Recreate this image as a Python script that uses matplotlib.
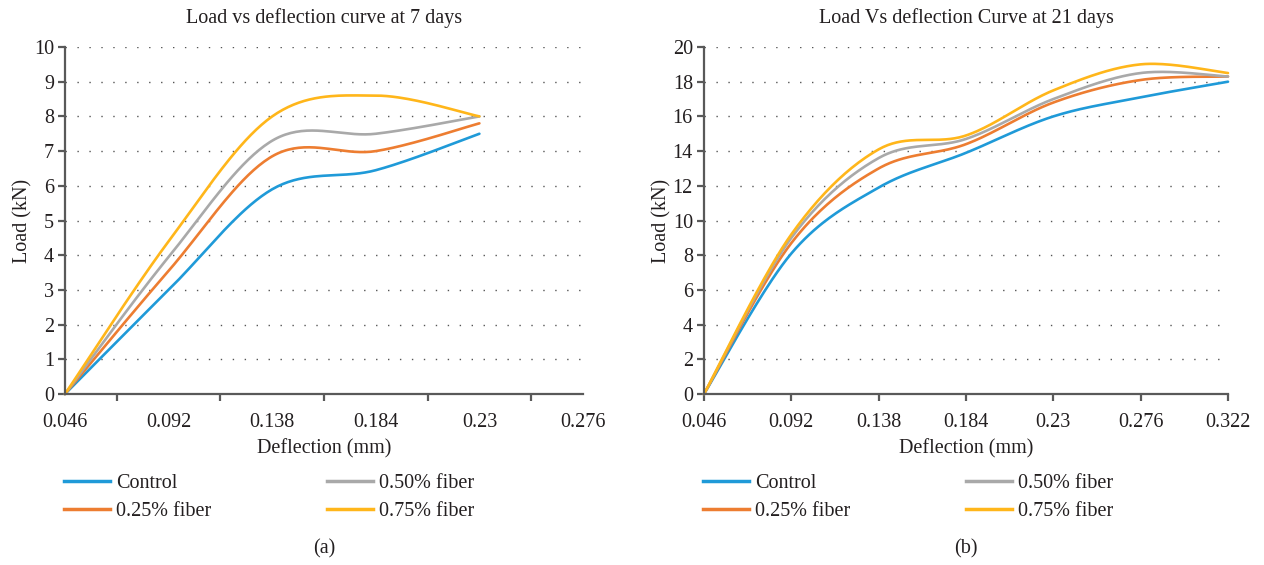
import numpy as np
import matplotlib
matplotlib.use("Agg")
import matplotlib.pyplot as plt
from matplotlib.lines import Line2D
from matplotlib.legend import Legend

plt.rcParams['font.family'] = ['Liberation Serif', 'DejaVu Serif']

# ---------------- data ----------------
series_names = ["Control", "0.25% fiber", "0.50% fiber", "0.75% fiber"]
colors = ["#1f9ad8", "#ED7D31", "#A9A9A9", "#FFB61A"]

cats_7 = ["0.046", "0.092", "0.138", "0.184", "0.23", "0.276"]
control_7 = [0, 3.0, 5.9, 6.45, 7.5]
fiber025_7 = [0, 3.55, 6.85, 7.0, 7.8]
fiber050_7 = [0, 3.95, 7.3, 7.5, 8.0]
fiber075_7 = [0, 4.4, 8.0, 8.6, 8.0]

cats_21 = ["0.046", "0.092", "0.138", "0.184", "0.23", "0.276", "0.322"]
control_21 = [0, 8.1, 11.9, 13.9, 16.0, 17.1, 18.0]
fiber025_21 = [0, 8.7, 13.0, 14.4, 16.8, 18.1, 18.3]
fiber050_21 = [0, 9.0, 13.6, 14.7, 17.0, 18.5, 18.3]
fiber075_21 = [0, 9.2, 14.1, 14.9, 17.5, 19.0, 18.5]


def smooth(y, n=40):
    """Excel-like smoothed line: cubic Bezier with Catmull-Rom tangents."""
    y = np.asarray(y, float)
    x = np.arange(len(y), dtype=float)
    P = np.column_stack([x, y])
    Pe = np.vstack([P[0], P, P[-1]])
    xs, ys = [], []
    t = np.linspace(0, 1, n)[:, None]
    for i in range(len(P) - 1):
        p0 = Pe[i + 1]
        p3 = Pe[i + 2]
        c1 = p0 + (Pe[i + 2] - Pe[i]) / 6.0
        c2 = p3 - (Pe[i + 3] - Pe[i + 1]) / 6.0
        B = ((1 - t) ** 3) * p0 + 3 * ((1 - t) ** 2) * t * c1 + 3 * (1 - t) * t ** 2 * c2 + t ** 3 * p3
        xs.append(B[:, 0]); ys.append(B[:, 1])
    return np.concatenate(xs), np.concatenate(ys)


fig = plt.figure(figsize=(12.64, 5.65), dpi=100)
W, H = 1264, 565

def make_ax(x0, x1):
    return fig.add_axes([x0 / W, 1 - 394 / H, (x1 - x0) / W, 347 / H])

axL = make_ax(65, 583)
axR = make_ax(704, 1228)

spine_c = "#595959"
text_c = "#231f20"
FS = 14.5

def style(ax, ymax, ystep, cats, between):
    ax.set_ylim(0, ymax)
    ax.set_xlim(0, len(cats) - 1)
    ax.set_yticks(np.arange(0, ymax + 0.01, ystep))
    ax.set_yticklabels([f"{v:g}" for v in np.arange(0, ymax + 0.01, ystep)])
    for s in ["top", "right"]:
        ax.spines[s].set_visible(False)
    for s in ["left", "bottom"]:
        ax.spines[s].set_color(spine_c)
        ax.spines[s].set_linewidth(1.6)
    ax.set_xticks(range(len(cats)))
    ax.set_xticklabels(cats)
    if between:
        ax.tick_params(axis='x', which='major', length=0, pad=14)
        ax.set_xticks([0] + [i + 0.5 for i in range(len(cats) - 1)] + [len(cats) - 1], minor=True)
        ax.tick_params(axis='x', which='minor', length=5, width=1.6, color=spine_c)
    else:
        ax.tick_params(axis='x', which='major', length=5, width=1.6, color=spine_c, pad=9)
    ax.tick_params(axis='y', length=5, width=1.6, color=spine_c, pad=3)
    ax.tick_params(labelsize=FS, labelcolor=text_c)
    for yv in np.arange(ystep, ymax + 0.01, ystep):
        ax.axhline(yv, color="#555555", lw=1.0, ls=(0, (1, 7.6)), zorder=0)
    ax.set_xlabel("Deflection (mm)", fontsize=FS, color=text_c, labelpad=5)
    ax.set_ylabel("Load (kN)", fontsize=FS, color=text_c, labelpad=1)


style(axL, 10, 1, cats_7, True)
style(axR, 20, 2, cats_21, False)

for ax, data in [(axL, [control_7, fiber025_7, fiber050_7, fiber075_7]),
                 (axR, [control_21, fiber025_21, fiber050_21, fiber075_21])]:
    for vals, c, name in zip(data, colors, series_names):
        xs, ys = smooth(vals)
        ax.plot(xs, ys, color=c, lw=1.9, label=name, solid_capstyle='round', clip_on=False)

axL.set_title("Load vs deflection curve at 7 days", fontsize=FS, color=text_c, pad=17)
axR.set_title("Load Vs deflection Curve at 21 days", fontsize=FS, color=text_c, pad=17)

# legends (two columns, placed as separate legends)
def add_legends(ax, x_col1, x_col2):
    handles = [Line2D([], [], color=c, lw=2.5) for c in colors]
    kw = dict(frameon=False, fontsize=FS, handlelength=2.3, handletextpad=0.3,
              labelspacing=0.45, borderaxespad=0, borderpad=0,
              bbox_transform=fig.transFigure, loc='upper left')
    for x, idx in [(x_col1, [0, 1]), (x_col2, [2, 3])]:
        leg = Legend(ax, [handles[i] for i in idx], [series_names[i] for i in idx],
                     bbox_to_anchor=(x / W, 1 - 474 / H), **kw)
        for t in leg.get_texts():
            t.set_color(text_c)
        ax.add_artist(leg)

add_legends(axL, 64, 327)
add_legends(axR, 703, 966)

fig.text(324 / W, 1 - 549 / H, "(a)", ha='center', va='center', fontsize=FS, color=text_c)
fig.text(966 / W, 1 - 549 / H, "(b)", ha='center', va='center', fontsize=FS, color=text_c)

fig.savefig("out.png", dpi=100)
